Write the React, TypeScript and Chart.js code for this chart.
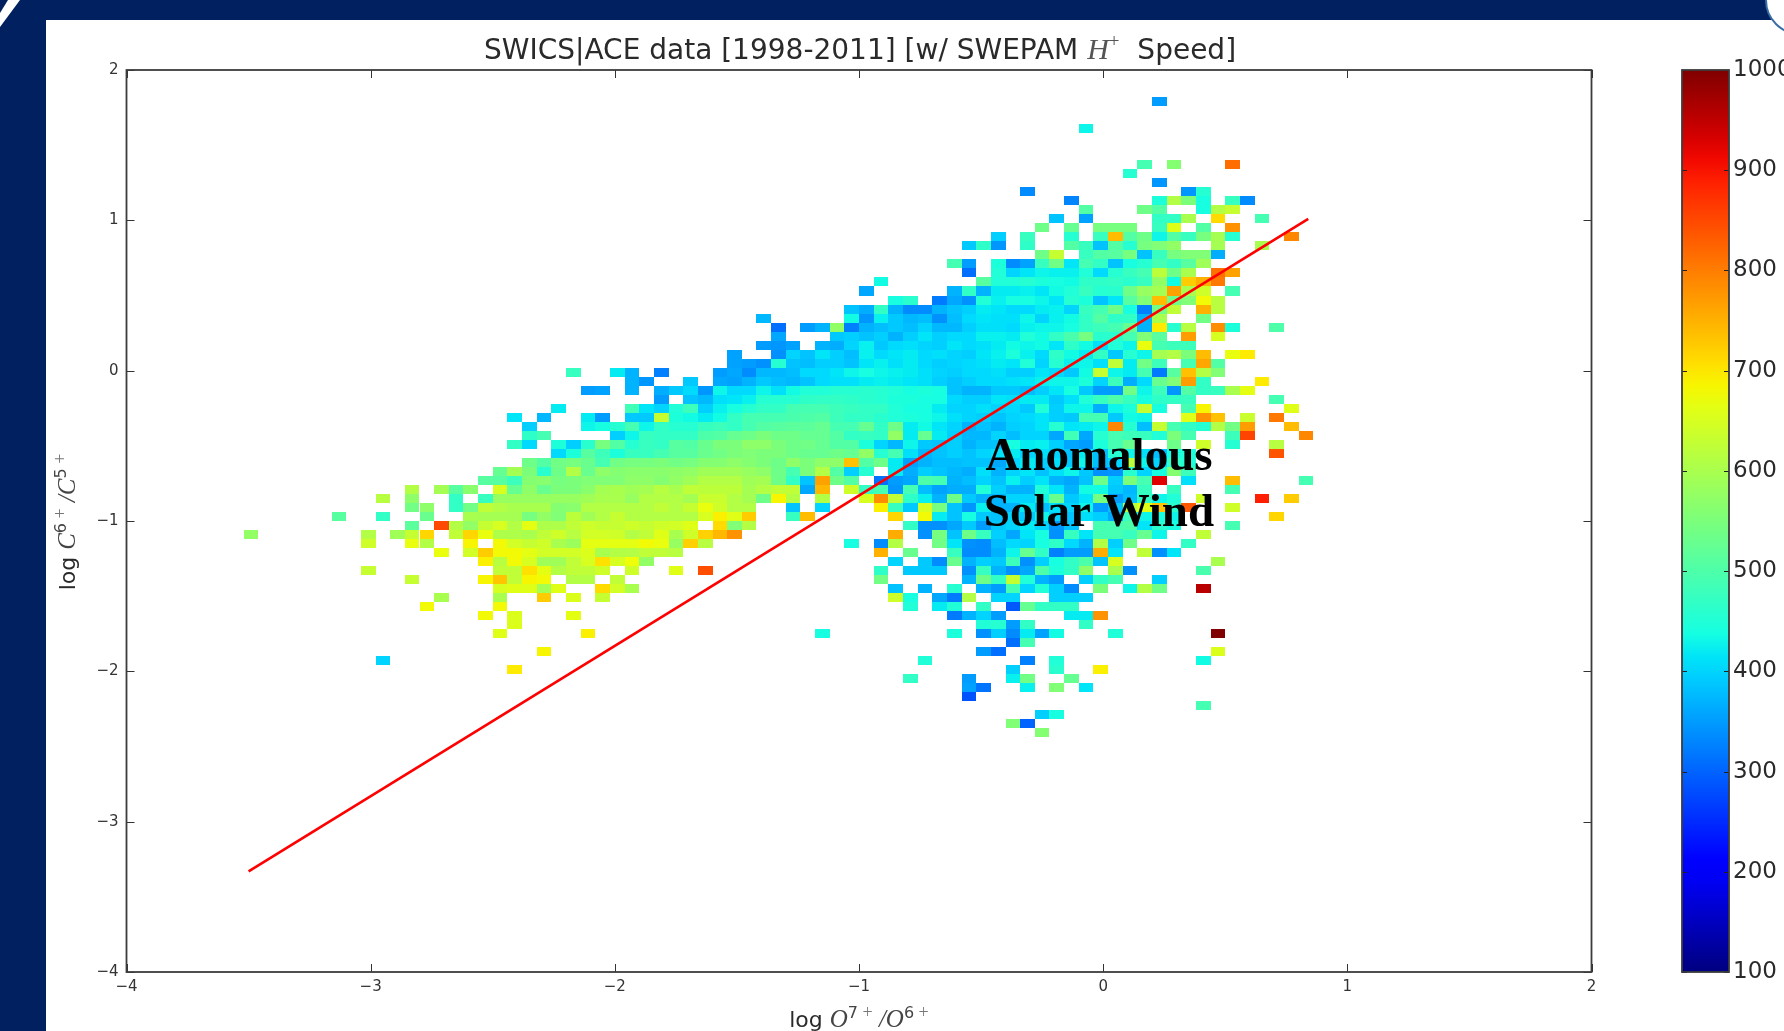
import React, { useEffect, useRef } from "react";
import { Chart, registerables } from "chart.js";

Chart.register(...registerables);

// Histogram bins: 100 x 100 bins of width 0.06, from (-4, 2) downwards.
const binWidth = 0.06;
const xAxisMin = -4;
const yAxisMax = 2;
const xTicks = [-4, -3, -2, -1, 0, 1, 2];
const yTicks = [-4, -3, -2, -1, 0, 1, 2];
const speedTicks = [100, 200, 300, 400, 500, 600, 700, 800, 900, 1000];
const fitLogO = [-3.5, 0.84];
const fitLogC = [-3.33, 1.01];

// Each entry: [row from the top, first column, mean speed (km/s) per bin...]; 0 = empty bin
const speedBins: number[][] = [
  [3, 70, 350],
  [6, 65, 430],
  [10, 69, 490, 0, 560, 0, 0, 0, 815],
  [11, 68, 455],
  [12, 70, 345],
  [13, 61, 335], [13, 72, 345, 455],
  [14, 64, 330], [14, 70, 445, 610, 550, 440, 0, 475, 335],
  [15, 65, 505], [15, 69, 535, 505, 0, 0, 440, 610, 630],
  [16, 63, 385, 0, 355], [16, 70, 470, 470, 600, 0, 710], [16, 77, 490],
  [17, 62, 535, 0, 525, 0, 545, 545, 545, 0, 475, 660, 0, 505, 0, 780],
  [18, 59, 395, 0, 475, 0, 0, 455, 0, 475, 740, 505, 535, 430, 505, 475, 545, 595, 455], [18, 79, 790],
  [19, 57, 390, 465, 345, 0, 465, 0, 0, 505, 475, 385, 505, 455, 545, 555, 575, 0, 0, 595], [19, 77, 600],
  [20, 62, 535, 630, 0, 475, 505, 510, 545, 385, 475, 545, 555, 555, 365],
  [21, 56, 490, 350, 0, 445, 335, 355, 475, 540, 415, 490, 470, 385, 440, 455, 490, 470, 510, 590],
  [22, 57, 310, 0, 450, 400, 415, 430, 425, 425, 450, 405, 455, 475, 490, 620, 535, 600, 0, 810, 765],
  [23, 51, 435], [23, 58, 510, 450, 450, 455, 445, 440, 435, 465, 465, 470, 460, 475, 575, 435, 725, 750, 805],
  [24, 50, 360], [24, 56, 370, 470, 370, 420, 420, 425, 415, 435, 450, 475, 455, 460, 535, 580, 595, 765, 600, 640, 0, 490],
  [25, 52, 440, 460, 0, 320, 360, 340, 450, 425, 440, 440, 430, 415, 455, 445, 385, 415, 510, 555, 740, 535, 555, 680, 615],
  [26, 49, 385, 365, 470, 370, 335, 335, 370, 385, 395, 420, 415, 405, 405, 420, 425, 400, 475, 490, 535, 440, 325, 540, 625, 0, 750, 615],
  [27, 43, 375], [27, 49, 435, 345, 425, 390, 375, 380, 340, 380, 405, 415, 410, 410, 430, 400, 425, 435, 470, 505, 465, 470, 370, 600, 0, 0, 540],
  [28, 44, 310, 0, 350, 370, 575, 325, 370, 380, 390, 380, 400, 375, 375, 395, 410, 410, 405, 425, 430, 430, 440, 470, 480, 490, 525, 370, 695, 455, 615, 0, 785, 445, 0, 0, 500],
  [29, 44, 360], [29, 48, 390, 395, 385, 395, 370, 395, 415, 395, 405, 405, 425, 425, 420, 450, 435, 470, 495, 545, 460, 460, 490, 555, 510, 0, 770, 0, 650],
  [30, 43, 350, 345, 355, 0, 370, 365, 400, 425, 390, 405, 410, 400, 395, 415, 405, 410, 420, 435, 430, 435, 415, 465, 435, 410, 450, 430, 670, 490, 480, 480],
  [31, 41, 355, 0, 0, 340, 400, 385, 415, 395, 380, 425, 405, 415, 420, 405, 410, 400, 395, 415, 425, 445, 425, 405, 465, 435, 420, 470, 390, 455, 430, 595, 610, 550, 740, 0, 670, 695],
  [32, 41, 355, 350, 340, 455, 385, 380, 395, 395, 385, 415, 425, 410, 420, 405, 395, 400, 405, 410, 420, 415, 450, 400, 455, 425, 430, 410, 625, 420, 540, 480, 0, 490, 760, 505],
  [33, 30, 475, 0, 0, 420, 370, 0, 325], [33, 40, 350, 360, 335, 375, 375, 380, 405, 405, 415, 430, 440, 430, 425, 420, 410, 400, 395, 405, 405, 410, 395, 395, 415, 405, 390, 435, 630, 430, 420, 490, 320, 510, 735, 610, 555],
  [34, 34, 370, 345, 0, 0, 390, 0, 360, 355, 370, 390, 380, 375, 385, 405, 410, 410, 420, 425, 420, 415, 410, 395, 385, 395, 405, 405, 410, 415, 425, 430, 430, 445, 400, 480, 365, 405, 530, 555, 770, 470], [34, 77, 695],
  [35, 31, 350, 355, 0, 370, 0, 365, 390, 405, 345, 430, 405, 405, 430, 410, 435, 450, 450, 455, 455, 460, 455, 450, 440, 445, 440, 385, 370, 370, 390, 390, 380, 395, 415, 440, 390, 350, 350, 540, 430, 480, 345, 505, 470, 475, 600, 665],
  [36, 36, 350, 0, 385, 375, 410, 415, 425, 455, 455, 455, 465, 470, 470, 465, 460, 455, 445, 445, 440, 440, 405, 395, 395, 415, 410, 420, 420, 390, 410, 450, 475, 500, 475, 440, 465, 470, 475], [36, 78, 490],
  [37, 29, 420], [37, 34, 485, 415, 400, 450, 480, 395, 425, 440, 455, 470, 470, 490, 490, 490, 480, 475, 470, 470, 450, 440, 440, 420, 400, 400, 410, 400, 405, 390, 450, 395, 430, 430, 365, 430, 445, 630, 440, 0, 490, 685], [37, 79, 660],
  [38, 26, 415, 0, 375, 0, 0, 420, 350, 0, 390, 390, 630, 445, 435, 420, 435, 470, 490, 490, 490, 495, 500, 505, 480, 470, 470, 460, 450, 445, 440, 430, 410, 400, 395, 385, 400, 405, 415, 395, 390, 490, 490, 390, 435, 430, 0, 0, 660, 780, 735, 0, 635, 0, 805],
  [39, 27, 395, 0, 0, 0, 430, 440, 455, 490, 430, 470, 455, 455, 475, 480, 470, 490, 505, 510, 515, 515, 525, 490, 490, 525, 470, 535, 420, 435, 415, 400, 370, 385, 370, 395, 400, 415, 455, 415, 420, 430, 790, 455, 380, 630, 490, 470, 455, 610, 540, 770, 0, 0, 740],
  [40, 27, 465, 490], [40, 33, 395, 430, 475, 470, 470, 470, 500, 505, 525, 535, 550, 535, 535, 525, 525, 505, 470, 475, 470, 575, 420, 525, 420, 395, 375, 375, 400, 380, 400, 400, 360, 485, 360, 455, 490, 480, 475, 450, 550, 490, 0, 0, 480, 855, 0, 0, 0, 790],
  [41, 26, 470, 405, 0, 445, 395, 460, 545, 505, 455, 475, 470, 510, 505, 530, 550, 550, 570, 570, 550, 535, 540, 525, 505, 505, 445, 400, 375, 430, 390, 385, 395, 370, 385, 385, 440, 420, 425, 395, 360, 350, 445, 490, 530, 0, 0, 535, 0, 640, 0, 455, 0, 0, 615],
  [42, 29, 405, 445, 510, 480, 445, 475, 475, 490, 510, 510, 530, 540, 550, 555, 550, 550, 535, 530, 525, 535, 525, 575, 455, 490, 410, 375, 385, 395, 385, 400, 410, 420, 400, 410, 400, 385, 420, 380, 455, 430, 410, 380, 440, 450], [42, 78, 840],
  [43, 27, 535, 505, 540, 545, 530, 490, 540, 545, 545, 550, 540, 545, 560, 560, 570, 560, 550, 535, 570, 550, 570, 570, 735, 505, 535, 420, 355, 370, 380, 380, 385, 385, 360, 400, 420, 395, 410, 390, 430, 380, 400, 620, 430, 400, 470, 450],
  [44, 25, 525, 595, 550, 460, 535, 610, 530, 570, 560, 565, 565, 565, 570, 575, 590, 590, 590, 580, 570, 535, 490, 550, 610, 505, 395, 455, 0, 420, 365, 395, 385, 375, 365, 410, 370, 400, 415, 385, 410, 430, 390, 340, 345, 460, 400, 440, 560, 480],
  [45, 24, 510, 510, 480, 560, 565, 545, 550, 555, 555, 555, 570, 570, 560, 575, 590, 610, 610, 610, 590, 595, 535, 470, 385, 765, 535, 505, 0, 315, 350, 360, 500, 490, 370, 380, 400, 385, 425, 395, 415, 370, 360, 385, 535, 395, 550, 490, 925, 0, 410, 0, 0, 740, 0, 0, 0, 0, 490],
  [46, 19, 610, 0, 595, 510, 565, 0, 650, 525, 570, 530, 550, 550, 565, 595, 600, 590, 595, 615, 600, 625, 620, 620, 620, 595, 610, 625, 625, 360, 745, 0, 640, 470, 490, 345, 490, 380, 355, 365, 365, 450, 395, 370, 370, 450, 415, 370, 435, 435, 390, 375, 475, 0, 475, 0, 0, 0, 490],
  [47, 17, 615, 0, 570, 0, 0, 470, 0, 475, 580, 580, 580, 580, 580, 580, 590, 600, 600, 580, 610, 610, 610, 595, 635, 635, 610, 595, 535, 685, 610, 0, 610, 0, 0, 650, 785, 625, 465, 425, 370, 535, 390, 370, 370, 400, 400, 430, 530, 390, 415, 545, 350, 380, 470, 430, 450, 0, 640, 0, 0, 0, 890, 0, 725],
  [48, 19, 540, 570, 0, 470, 540, 625, 610, 600, 600, 600, 560, 565, 610, 610, 610, 610, 610, 625, 610, 630, 670, 640, 610, 610, 0, 0, 385, 0, 400, 0, 0, 0, 690, 475, 390, 650, 545, 385, 345, 425, 370, 370, 420, 380, 410, 400, 430, 350, 385, 610, 660, 735, 460, 835, 0, 0, 640],
  [49, 14, 510, 0, 0, 470, 0, 0, 530, 0, 0, 600, 595, 595, 595, 545, 575, 555, 620, 590, 610, 630, 610, 610, 610, 610, 610, 650, 690, 660, 725, 0, 0, 475, 740, 0, 0, 0, 0, 0, 715, 0, 680, 420, 385, 440, 390, 385, 400, 390, 430, 400, 385, 410, 395, 360, 480, 430, 440, 430], [49, 78, 715],
  [50, 19, 515, 0, 850, 610, 575, 630, 650, 610, 665, 605, 605, 625, 640, 630, 630, 640, 630, 640, 645, 660, 0, 710, 555, 610], [50, 53, 470, 340, 340, 360, 390, 350, 390, 400, 420, 400, 345, 385, 0, 490, 490, 500, 415, 460, 440, 0, 0, 0, 490],
  [51, 8, 575], [51, 16, 610, 0, 590, 630, 715, 0, 625, 715, 670, 605, 605, 600, 625, 640, 615, 645, 645, 640, 610, 625, 660, 600, 640, 720, 745, 780], [51, 52, 755, 0, 340, 545, 385, 535, 475, 395, 360, 415, 440, 340, 475, 415, 490, 490, 475, 525, 430, 0, 0, 625],
  [52, 16, 640, 0, 0, 670, 610, 0, 0, 685, 0, 680, 645, 630, 640, 600, 585, 665, 665, 665, 665, 680, 670, 580, 720, 615], [52, 49, 440, 0, 335, 610, 0, 0, 540, 415, 340, 335, 380, 405, 400, 440, 465, 405, 370, 610, 395, 535, 0, 0, 0, 470],
  [53, 21, 670, 0, 645, 725, 680, 680, 665, 645, 645, 645, 655, 600, 610, 610, 625, 625, 615], [53, 51, 750, 0, 530, 0, 0, 475, 335, 335, 370, 430, 525, 470, 325, 350, 350, 755, 415, 0, 625, 340, 415],
  [54, 24, 690, 615, 680, 650, 590, 590, 625, 650, 705, 650, 675, 575], [54, 52, 400, 0, 390, 335, 530, 370, 395, 390, 480, 340, 395, 440, 470, 500, 385, 650], [54, 74, 600],
  [55, 16, 630], [55, 25, 625, 625, 705, 665, 610, 625, 625, 640, 0, 640, 0, 0, 660, 0, 845], [55, 51, 465, 0, 390, 390, 390, 0, 340, 475, 370, 340, 360, 500, 445, 470, 570, 0, 600, 340], [55, 73, 495],
  [56, 19, 630], [56, 24, 685, 730, 625, 685, 680, 0, 610, 610, 0, 625], [56, 51, 540], [56, 57, 370, 535, 470, 630, 450, 370, 350, 0, 395, 470, 490, 0, 0, 395],
  [57, 25, 650, 660, 660, 595, 660, 0, 0, 710, 645, 600], [57, 52, 385, 0, 370, 0, 455, 0, 370, 350, 490, 400, 450, 395, 335, 0, 550, 0, 430, 610, 535], [57, 73, 955],
  [58, 21, 600, 0, 0, 0, 600, 0, 0, 725, 0, 655, 0, 630], [58, 52, 640, 440, 0, 360, 320, 610, 0, 400, 400, 0, 0, 395, 395, 395],
  [59, 20, 680], [59, 25, 680], [59, 53, 450, 0, 420, 450, 0, 470, 0, 290, 525, 470, 470, 470],
  [60, 24, 680, 0, 655, 0, 0, 0, 665], [60, 56, 320, 370, 400, 350], [60, 64, 420, 420, 780],
  [61, 26, 655], [61, 58, 450, 455, 350, 470], [61, 65, 470],
  [62, 25, 660], [62, 31, 690], [62, 47, 440], [62, 56, 445, 0, 340, 395, 335, 420, 355, 435], [62, 67, 450], [62, 74, 1000],
  [63, 60, 310, 490],
  [64, 28, 685], [64, 58, 350, 310], [64, 74, 655],
  [65, 17, 400], [65, 54, 450], [65, 61, 325, 0, 450], [65, 73, 435],
  [66, 26, 695], [66, 60, 395, 0, 0, 460, 0, 0, 690],
  [67, 53, 470], [67, 57, 350], [67, 60, 425, 540, 0, 0, 525],
  [68, 57, 355, 315], [68, 61, 425, 0, 555, 0, 415],
  [69, 57, 285],
  [70, 73, 490],
  [71, 62, 395, 440],
  [72, 60, 555, 300],
  [73, 62, 560],
];

type Cell = { x: number; y: number; v: number };

function buildCells(): Cell[] {
  const cells: Cell[] = [];
  for (const entry of speedBins) {
    const [row, col, ...speeds] = entry;
    speeds.forEach((v, i) => {
      if (v > 0) {
        cells.push({
          x: xAxisMin + (col + i) * binWidth,
          y: yAxisMax - row * binWidth,
          v,
        });
      }
    });
  }
  return cells;
}

function ramp(t: number, a: number, b: number) {
  return Math.max(0, Math.min(1, (t - a) / (b - a)));
}

function jet(t: number): string {
  const r = t < 0.89 ? ramp(t, 0.35, 0.66) : 1 - 0.5 * ramp(t, 0.89, 1);
  const g = t < 0.64 ? ramp(t, 0.125, 0.375) : 1 - ramp(t, 0.64, 0.91);
  const b = t < 0.34 ? 0.5 + 0.5 * ramp(t, 0, 0.11) : 1 - ramp(t, 0.34, 0.65);
  return `rgb(${Math.round(r * 255)},${Math.round(g * 255)},${Math.round(b * 255)})`;
}

const speedColor = (v: number) => jet((v - 100) / 900);

type Run = { text: string; font: string; dy?: number; color?: string };

const SANS = '"DejaVu Sans"';
const SERIF = '"Liberation Serif"';
const TEXT_COLOR = "#2a2a2a";

function drawRuns(
  ctx: CanvasRenderingContext2D,
  runs: Run[],
  cx: number,
  cy: number,
  rotate: number
) {
  ctx.save();
  ctx.translate(cx, cy);
  ctx.rotate(rotate);
  ctx.textBaseline = "alphabetic";
  ctx.textAlign = "left";
  let total = 0;
  for (const r of runs) {
    ctx.font = r.font;
    total += ctx.measureText(r.text).width;
  }
  let x = -total / 2;
  for (const r of runs) {
    ctx.font = r.font;
    ctx.fillStyle = r.color ?? TEXT_COLOR;
    ctx.fillText(r.text, x, r.dy ?? 0);
    x += ctx.measureText(r.text).width;
  }
  ctx.restore();
}

const titleRuns: Run[] = [
  { text: "SWICS|ACE data [1998-2011] [w/ SWEPAM ", font: `28px ${SANS}` },
  { text: "H", font: `italic 30px ${SERIF}`, color: "#555" },
  { text: "+", font: `19px ${SERIF}`, dy: -12, color: "#555" },
  { text: "  Speed]", font: `28px ${SANS}` },
];

const mathFont = `italic 25px ${SERIF}`;
const supFont = `16px ${SANS}`;
const plusFont = `18px ${SERIF}`;

const xLabelRuns: Run[] = [
  { text: "log ", font: `22px ${SANS}` },
  { text: "O", font: mathFont, color: "#444" },
  { text: "7", font: supFont, dy: -9, color: "#444" },
  { text: " +", font: plusFont, dy: -9, color: "#777" },
  { text: " /", font: mathFont, color: "#444" },
  { text: "O", font: mathFont, color: "#444" },
  { text: "6", font: supFont, dy: -9, color: "#444" },
  { text: " +", font: plusFont, dy: -9, color: "#777" },
];

const yLabelRuns: Run[] = [
  { text: "log ", font: `22px ${SANS}` },
  { text: "C", font: mathFont, color: "#444" },
  { text: "6", font: supFont, dy: -9, color: "#444" },
  { text: " +", font: plusFont, dy: -9, color: "#777" },
  { text: " /", font: mathFont, color: "#444" },
  { text: "C", font: mathFont, color: "#444" },
  { text: "5", font: supFont, dy: -9, color: "#444" },
  { text: " +", font: plusFont, dy: -9, color: "#777" },
];

const fmtTick = (v: string | number) => String(v).replace("-", "\u2212");

export default function App() {
  const mainRef = useRef<HTMLCanvasElement>(null);
  const barRef = useRef<HTMLCanvasElement>(null);

  useEffect(() => {
    document.body.style.margin = "0";
    document.body.style.background = "#fff";

    const cells = buildCells();

    const heatPlugin = {
      id: "heatCells",
      beforeDatasetsDraw(chart: any) {
        const { ctx, scales } = chart;
        const pts = chart.data.datasets[0].data as Cell[];
        ctx.save();
        for (const c of pts) {
          const l = Math.round(scales.x.getPixelForValue(c.x));
          const r = Math.round(scales.x.getPixelForValue(c.x + binWidth));
          const t = Math.round(scales.y.getPixelForValue(c.y));
          const b = Math.round(scales.y.getPixelForValue(c.y - binWidth));
          ctx.fillStyle = speedColor(c.v);
          ctx.fillRect(l, t, r - l, b - t);
        }
        ctx.restore();
      },
    };

    const decorPlugin = {
      id: "decor",
      afterDatasetsDraw(chart: any) {
        const { ctx, chartArea: a, scales } = chart;
        ctx.save();
        // inward ticks on all four sides
        ctx.strokeStyle = "#333";
        ctx.lineWidth = 1;
        ctx.beginPath();
        for (const v of xTicks) {
          const p = Math.round(scales.x.getPixelForValue(v)) + 0.5;
          ctx.moveTo(p, a.top);
          ctx.lineTo(p, a.top + 8);
          ctx.moveTo(p, a.bottom);
          ctx.lineTo(p, a.bottom - 8);
        }
        for (const v of yTicks) {
          const p = Math.round(scales.y.getPixelForValue(v)) + 0.5;
          ctx.moveTo(a.left, p);
          ctx.lineTo(a.left + 8, p);
          ctx.moveTo(a.right, p);
          ctx.lineTo(a.right - 8, p);
        }
        ctx.stroke();
        // spines
        ctx.strokeStyle = "#3c3c3c";
        ctx.lineWidth = 1.8;
        ctx.strokeRect(a.left, a.top, a.right - a.left, a.bottom - a.top);

        // annotation
        ctx.fillStyle = "#000";
        ctx.font = `bold 47px ${SERIF}`;
        ctx.textAlign = "center";
        ctx.textBaseline = "alphabetic";
        ctx.fillText("Anomalous", 1099, 470);
        ctx.fillText("Solar Wind", 1099, 526);
        ctx.restore();

        drawRuns(ctx, titleRuns, 860, 59, 0);
        drawRuns(ctx, xLabelRuns, 859, 1027, 0);
        drawRuns(ctx, yLabelRuns, 75, 522, -Math.PI / 2);
      },
    };

    const main = new Chart(mainRef.current!, {
      type: "scatter",
      data: {
        datasets: [
          {
            label: "Mean H+ speed",
            data: cells as any,
            pointRadius: 0,
            pointHitRadius: 0,
            showLine: false,
            backgroundColor: "#00d5ff",
          },
          {
            label: "Fit",
            data: fitLogO.map((x, i) => ({ x, y: fitLogC[i] })),
            showLine: true,
            pointRadius: 0,
            borderColor: "#ff0000",
            borderWidth: 2.6,
          },
        ],
      },
      options: {
        animation: false,
        responsive: false,
        events: [],
        layout: { padding: { left: 0, right: 1784 - 1591.5, top: 70, bottom: 0 } },
        plugins: { legend: { display: false }, tooltip: { enabled: false }, title: { display: false } },
        scales: {
          x: {
            type: "linear",
            min: -4,
            max: 2,
            afterFit: (s: any) => { s.height = 59; },
            afterBuildTicks: (s: any) => { s.ticks = xTicks.map((value) => ({ value })); },
            grid: { display: false, drawTicks: false },
            border: { display: false },
            ticks: {
              autoSkip: false,
              maxRotation: 0,
              padding: 6,
              color: "#333",
              font: { family: "DejaVu Sans", size: 15 },
              callback: fmtTick,
            },
          },
          y: {
            type: "linear",
            min: -4,
            max: 2,
            afterFit: (s: any) => { s.width = 126.5; },
            afterBuildTicks: (s: any) => { s.ticks = yTicks.map((value) => ({ value })); },
            grid: { display: false, drawTicks: false },
            border: { display: false },
            ticks: {
              autoSkip: false,
              padding: 8,
              color: "#333",
              font: { family: "DejaVu Sans", size: 15 },
              callback: fmtTick,
            },
          },
        },
      },
      plugins: [heatPlugin, decorPlugin],
    } as any);

    const barCtx = barRef.current!.getContext("2d")!;
    const grad = barCtx.createLinearGradient(0, 972, 0, 70);
    for (let i = 0; i <= 40; i++) grad.addColorStop(i / 40, jet(i / 40));

    const barFrame = {
      id: "barFrame",
      afterDatasetsDraw(chart: any) {
        const { ctx, chartArea: a, scales } = chart;
        ctx.save();
        ctx.strokeStyle = "#222";
        ctx.lineWidth = 1;
        ctx.beginPath();
        for (const v of speedTicks) {
          const p = Math.round(scales.y.getPixelForValue(v)) + 0.5;
          ctx.moveTo(a.right, p);
          ctx.lineTo(a.right - 5, p);
          ctx.moveTo(a.left, p);
          ctx.lineTo(a.left + 5, p);
        }
        ctx.stroke();
        ctx.strokeStyle = "#3c3c3c";
        ctx.lineWidth = 1.8;
        ctx.strokeRect(a.left, a.top, a.right - a.left, a.bottom - a.top);
        ctx.restore();
      },
    };

    const bar = new Chart(barRef.current!, {
      type: "bar",
      data: {
        labels: ["speed"],
        datasets: [
          {
            data: [[100, 1000]] as any,
            backgroundColor: grad,
            barPercentage: 1,
            categoryPercentage: 1,
          },
        ],
      },
      options: {
        animation: false,
        responsive: false,
        events: [],
        layout: { padding: { left: 10, right: 0, top: 70, bottom: 59 } },
        plugins: { legend: { display: false }, tooltip: { enabled: false } },
        scales: {
          x: { display: false },
          y: {
            position: "right",
            min: 100,
            max: 1000,
            afterFit: (s: any) => { s.width = 55; },
            afterBuildTicks: (s: any) => { s.ticks = speedTicks.map((value) => ({ value })); },
            grid: { display: false, drawTicks: false },
            border: { display: false },
            ticks: {
              autoSkip: false,
              padding: 4,
              color: "#2a2a2a",
              font: { family: "DejaVu Sans", size: 23 },
              callback: (v: string | number) => String(v),
            },
          },
        },
      },
      plugins: [barFrame],
    } as any);

    return () => {
      main.destroy();
      bar.destroy();
    };
  }, []);

  const soften = "blur(0.45px)";

  return (
    <div
      style={{
        position: "absolute",
        left: 0,
        top: 0,
        width: 1784,
        height: 1031,
        overflow: "hidden",
        background: "#fff",
      }}
    >
      <div style={{ position: "absolute", left: 0, top: 0, width: 1784, height: 20, background: "#002060" }} />
      <div style={{ position: "absolute", left: 0, top: 0, width: 46, height: 1031, background: "#002060" }} />
      <div
        style={{
          position: "absolute",
          left: 0,
          top: 0,
          width: 20,
          height: 27,
          background: "#fff",
          clipPath: "polygon(100% 0, 40% 0, 0 48%, 0 100%)",
        }}
      />
      <div
        style={{
          position: "absolute",
          left: 1765,
          top: -35,
          width: 70,
          height: 70,
          boxSizing: "border-box",
          borderRadius: "50%",
          background: "#fff",
          border: "2.5px solid #3b6ea5",
        }}
      />
      <canvas ref={mainRef} width={1784} height={1031} style={{ position: "absolute", left: 0, top: 0, filter: soften }} />
      <canvas ref={barRef} width={112} height={1031} style={{ position: "absolute", left: 1672, top: 0, filter: soften }} />
    </div>
  );
}
